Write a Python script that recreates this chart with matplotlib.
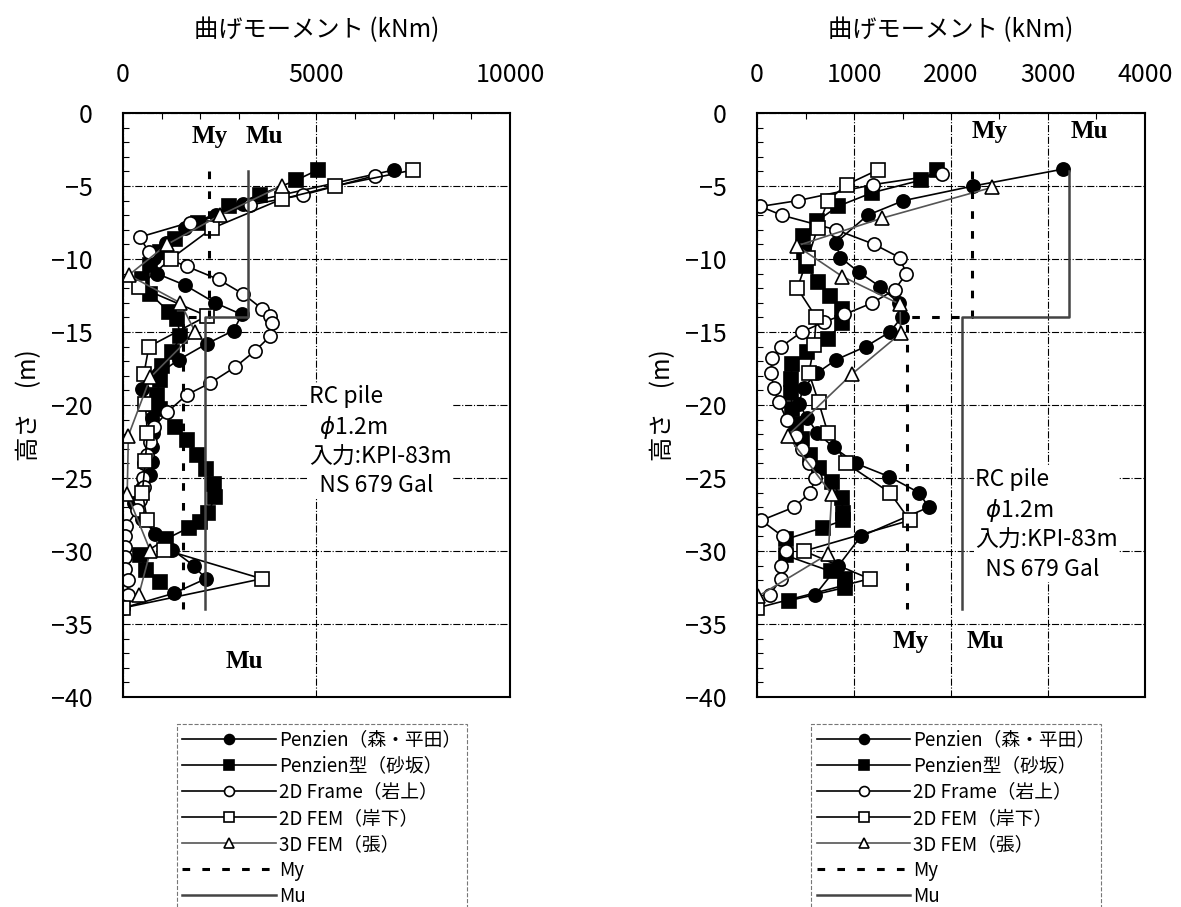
import matplotlib.pyplot as plt
from matplotlib.ticker import MultipleLocator

plt.rcParams['font.family'] = ['Noto Sans CJK JP', 'DejaVu Sans']

# ---- left panel (0-10000 kNm) ----
L_pen_d = [-3.9, -6.2, -7.0, -7.9, -8.9, -9.9, -11.0, -11.8, -13.0, -13.8, -14.9, -15.8, -16.9, -17.9,
           -18.9, -19.9, -20.9, -21.9, -22.9, -23.9, -24.8, -25.7, -26.7, -27.8, -28.8, -29.9, -31.0,
           -31.9, -32.9, -33.9]
L_pen_v = [7000, 3100, 2400, 1600, 1100, 800, 880, 1610, 2380, 3070, 2860, 2170, 1440, 900,
           500, 650, 760, 780, 760, 740, 710, 500, 280, 500, 840, 1270, 1830,
           2140, 1310, 0]

L_sak_d = [-3.9, -4.6, -5.6, -6.4, -7.5, -8.6, -9.5, -10.4, -11.4, -12.4, -13.6, -14.1, -15.3, -16.4,
           -17.3, -18.3, -19.3, -20.3, -21.5, -22.4, -23.4, -24.4, -25.4, -26.3, -27.4, -28.0, -28.4,
           -29.2, -30.3, -31.3, -32.1]
L_sak_v = [5030, 4480, 3540, 2730, 1950, 1350, 950, 710, 480, 710, 1180, 1400, 1480, 1270,
           1010, 950, 880, 950, 1350, 1650, 1910, 2140, 2340, 2370, 2210, 2000, 1700,
           1100, 450, 600, 950]

L_frm_d = [-4.3, -5.6, -6.3, -7.5, -8.5, -9.5, -10.5, -11.4, -12.4, -13.4, -13.9, -14.4, -15.3, -16.3,
           -17.4, -18.5, -19.3, -20.5, -21.5, -22.5, -23.4, -24.0, -25.0, -25.6, -26.5, -27.2, -28.3,
           -29.0, -29.7, -30.4, -31.2, -32.0, -33.0, -33.8]
L_frm_v = [6500, 4660, 3290, 1720, 430, 670, 1650, 2470, 3110, 3590, 3800, 3840, 3800, 3410,
           2900, 2250, 1650, 1140, 800, 710, 630, 540, 520, 540, 450, 370, 80,
           60, 50, 60, 60, 130, 120, 0]

L_fem2_d = [-3.9, -5.0, -5.9, -7.9, -10.0, -11.9, -13.9, -16.0, -17.9, -19.9, -21.9, -23.8, -26.0,
            -27.9, -29.9, -31.9, -33.9]
L_fem2_v = [7500, 5470, 4100, 2300, 1230, 410, 2170, 670, 540, 580, 630, 580, 500,
            630, 1060, 3590, 0]

L_fem3_d = [-5.0, -7.0, -9.0, -11.1, -13.0, -15.0, -18.1, -22.1, -26.1, -30.0, -33.0]
L_fem3_v = [4100, 2510, 1140, 150, 1480, 1870, 710, 140, 110, 710, 410]

# ---- right panel (0-4000 kNm) ----
R_pen_d = [-3.85, -5.0, -6.0, -7.0, -8.9, -9.9, -10.9, -11.9, -13.0, -14.0, -15.0, -16.0, -16.9,
           -17.8, -18.8, -19.9, -20.9, -21.9, -22.9, -24.0, -24.9, -26.0, -27.0, -29.0, -31.0, -33.0]
R_pen_v = [3150, 2230, 1510, 1140, 810, 860, 1050, 1270, 1460, 1490, 1370, 1120, 815,
           620, 480, 430, 520, 620, 790, 1020, 1360, 1670, 1770, 1070, 840, 600]

R_sak_d = [-3.9, -4.6, -5.45, -6.4, -7.4, -8.45, -9.5, -10.5, -11.6, -12.5, -13.4, -14.4, -15.45,
           -16.4, -17.2, -18.2, -19.2, -20.3, -21.3, -22.3, -23.4, -24.3, -25.3, -26.4, -27.4,
           -27.9, -28.4, -29.2, -30.3, -31.4, -31.9, -32.5, -33.4]
R_sak_v = [1860, 1690, 1190, 830, 620, 475, 480, 510, 630, 750, 880, 880, 730,
           520, 365, 348, 348, 365, 400, 466, 551, 642, 777, 872, 888,
           888, 676, 297, 297, 763, 905, 905, 331]

R_frm_d = [-4.2, -4.9, -6.0, -6.4, -7.0, -8.0, -9.0, -9.9, -11.0, -12.1, -13.0, -13.8, -14.3, -15.0,
           -16.0, -16.8, -17.8, -18.8, -19.8, -21.0, -22.1, -23.0, -24.0, -25.0, -26.0, -27.0, -27.9,
           -29.0, -30.0, -31.0, -31.9, -33.0]
R_frm_v = [1910, 1200, 420, 35, 255, 815, 1210, 1470, 1540, 1420, 1190, 900, 695, 460,
           250, 155, 145, 170, 225, 305, 400, 460, 535, 600, 550, 380, 45,
           265, 300, 250, 250, 130]

R_fem2_d = [-3.9, -4.9, -6.0, -7.9, -9.9, -12.0, -14.0, -15.9, -17.8, -19.8, -21.9, -24.0, -26.0,
            -27.9, -30.0, -31.9, -33.9]
R_fem2_v = [1245, 925, 730, 625, 525, 415, 610, 590, 535, 635, 730, 920, 1370,
            1575, 485, 1160, 0]

R_fem3_d = [-5.1, -7.2, -9.1, -11.2, -13.1, -15.1, -17.9, -22.1, -26.1, -30.2, -33.1]
R_fem3_v = [2420, 1290, 410, 880, 1475, 1480, 975, 315, 770, 735, 10]

# yield / ultimate moment envelopes (upper and lower part of the pile)
My_v = [2220, 2220, 1550, 1550]
Mu_v = [3220, 3220, 2110, 2110]
M_d = [-4.0, -14.0, -14.0, -34.0]

labels = ['Penzien（森・平田）', 'Penzien型（砂坂）', '2D Frame（岩上）', '2D FEM（岸下）', '3D FEM（張）',
          'My', 'Mu']
note = 'RC pile\n  $\\phi$1.2m\n入力:KPI-83m\n  NS 679 Gal'


def panel(ax, series, xmax, xstep, xminor, note_xy, mtext):
    styles = [
        dict(marker='o', mfc='black', color='black'),
        dict(marker='s', mfc='black', color='black'),
        dict(marker='o', mfc='white', color='black'),
        dict(marker='s', mfc='white', color='black'),
        dict(marker='^', mfc='white', color='#555555', mec='black'),
    ]
    handles = []
    for (d, v), st in zip(series, styles):
        h, = ax.plot(v, d, lw=1.2, ms=9.5, mew=1.2, **st)
        handles.append(h)
    h_my, = ax.plot(My_v, M_d, color='black', lw=2.2, ls=(0, (2.5, 4)))
    h_mu, = ax.plot(Mu_v, M_d, color='#444444', lw=1.8)
    handles += [h_my, h_mu]

    ax.set_xlim(0, xmax)
    ax.set_ylim(-40, 0)
    ax.xaxis.set_ticks_position('top')
    ax.set_xticks(range(0, xmax + 1, xstep))
    ax.set_yticks(range(-40, 1, 5))
    ax.xaxis.set_minor_locator(MultipleLocator(xminor))
    ax.yaxis.set_minor_locator(MultipleLocator(1))
    ax.tick_params(which='major', length=0, labelsize=18)
    ax.tick_params(axis='x', which='major', pad=18)
    ax.tick_params(axis='y', which='major', pad=22)
    ax.tick_params(which='minor', direction='in', length=4, width=0.8, top=True, left=True,
                   bottom=False, right=False)
    ax.xaxis.set_label_position('top')
    ax.set_xlabel('曲げモーメント (kNm)', fontsize=17.5, labelpad=18)
    ax.set_ylabel('高さ　(m)', fontsize=17.5, labelpad=6)
    for s in ax.spines.values():
        s.set_linewidth(1.5)
    ax.grid(True, which='major', color='black', lw=0.8, ls='-.')

    ax.text(note_xy[0], note_xy[1], note, fontsize=16.5, ha='left', va='top', linespacing=1.3,
            bbox=dict(facecolor='white', edgecolor='none', pad=1), zorder=5)
    for (tx, ty, t) in mtext:
        ax.text(tx, ty, t, fontsize=18, fontweight='bold', family='Liberation Serif',
                ha='center', va='center')

    leg = ax.legend(handles, labels, loc='upper left', bbox_to_anchor=(0.115, -0.03),
                    fontsize=13.5, handlelength=5.0, handletextpad=0.15, labelspacing=0.27,
                    borderpad=0.3, markerscale=0.75, fancybox=False, framealpha=1)
    leg.get_frame().set_edgecolor('#777777')
    leg.get_frame().set_linestyle('--')
    leg.get_frame().set_linewidth(0.8)


fig = plt.figure(figsize=(11.81, 9.07), dpi=100)
ax1 = fig.add_axes([0.1041, 0.2315, 0.3277, 0.6439])
ax2 = fig.add_axes([0.641, 0.2315, 0.3285, 0.6439])

panel(ax1,
      [(L_pen_d, L_pen_v), (L_sak_d, L_sak_v), (L_frm_d, L_frm_v), (L_fem2_d, L_fem2_v), (L_fem3_d, L_fem3_v)],
      10000, 5000, 1000, (4800, -18.6),
      [(2250, -1.6, 'My'), (3650, -1.6, 'Mu'), (3150, -37.6, 'Mu')])
panel(ax2,
      [(R_pen_d, R_pen_v), (R_sak_d, R_sak_v), (R_frm_d, R_frm_v), (R_fem2_d, R_fem2_v), (R_fem3_d, R_fem3_v)],
      4000, 1000, 500, (2250, -24.3),
      [(2400, -1.3, 'My'), (3430, -1.3, 'Mu'), (1580, -36.2, 'My'), (2350, -36.2, 'Mu')])

fig.savefig('out.png', dpi=100)
